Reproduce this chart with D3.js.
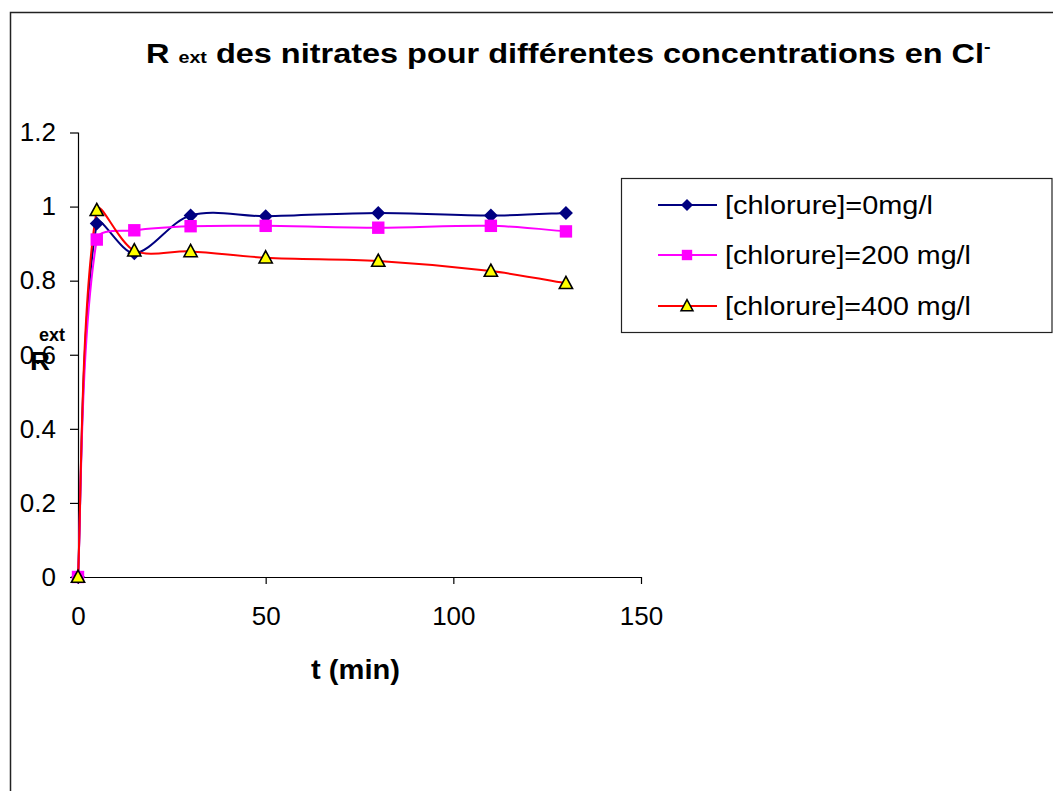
<!DOCTYPE html>
<html>
<head>
<meta charset="utf-8">
<script src="https://cdn.jsdelivr.net/npm/d3@7"></script>
<style>
  html, body { margin: 0; padding: 0; background: #fff; }
  svg { display: block; font-family: "Liberation Sans", Arial, sans-serif; }
</style>
</head>
<body>
<svg id="chart" width="1053" height="791"></svg>
<script>
// Sampling times (min)
const times = [0, 5, 15, 30, 50, 80, 110, 130];
// Rext of nitrates for each chloride concentration
const chlorure0 = [0, 0.954, 0.874, 0.976, 0.974, 0.983, 0.976, 0.983];
const chlorure200 = [0, 0.911, 0.936, 0.947, 0.948, 0.943, 0.948, 0.933];
const chlorure400 = [0, 0.99, 0.881, 0.879, 0.862, 0.853, 0.826, 0.793];
const seriesNames = ["[chlorure]=0mg/l", "[chlorure]=200 mg/l", "[chlorure]=400 mg/l"];
const xTicks = [0, 50, 100, 150];
const yTicks = [0, 0.2, 0.4, 0.6, 0.8, 1, 1.2];

// marker shapes drawn around the origin, r = half-width
const diamond = r => `M0,${-r}L${r},0L0,${r}L${-r},0Z`;
const square = r => `M${-r},${-r}H${r}V${r}H${-r}Z`;
const triangle = r => `M0,${-r * 1.05}L${r},${r * 0.8}H${-r}Z`;

const series = [
  { name: seriesNames[0], values: chlorure0, line: "#000080", fill: "#000080", stroke: "none", shape: diamond, r: 7, lr: 6 },
  { name: seriesNames[1], values: chlorure200, line: "#FF00FF", fill: "#FF00FF", stroke: "none", shape: square, r: 6.2, lr: 5.2 },
  { name: seriesNames[2], values: chlorure400, line: "#FF0000", fill: "#FFFF00", stroke: "#000", shape: triangle, r: 6.6, lr: 6 }
];

const svg = d3.select("#chart");

// stretch a text horizontally so that it spans the given width, keeping its left edge
function fitWidth(sel, width, anchorX) {
  const w = sel.node().getComputedTextLength();
  const k = width / w;
  sel.attr("transform", `translate(${anchorX},0) scale(${k},1) translate(${-anchorX},0)`);
}

// smooth curve through pixel points: cubic Béziers whose tangents are
// shortened on the side of the shorter neighbouring segment
function smoothPath(pts) {
  const n = pts.length;
  const dist = (a, b) => Math.hypot(b[0] - a[0], b[1] - a[1]);
  let d = `M${pts[0][0]},${pts[0][1]}`;
  for (let i = 0; i < n - 1; i++) {
    const p0 = pts[Math.max(i - 1, 0)], p1 = pts[i], p2 = pts[i + 1], p3 = pts[Math.min(i + 2, n - 1)];
    const d01 = dist(p0, p1), d12 = dist(p1, p2), d23 = dist(p2, p3);
    let c1, c2;
    if (i === 0) {
      c1 = [p1[0] + (p2[0] - p1[0]) / 6, p1[1] + (p2[1] - p1[1]) / 6];
    } else {
      const f = d12 / (d01 + d12) / 3;
      c1 = [p1[0] + (p2[0] - p0[0]) * f, p1[1] + (p2[1] - p0[1]) * f];
    }
    if (i === n - 2) {
      c2 = [p2[0] - (p2[0] - p1[0]) / 6, p2[1] - (p2[1] - p1[1]) / 6];
    } else {
      const g = d12 / (d12 + d23) / 3;
      c2 = [p2[0] - (p3[0] - p1[0]) * g, p2[1] - (p3[1] - p1[1]) * g];
    }
    d += `C${c1[0]},${c1[1]},${c2[0]},${c2[1]},${p2[0]},${p2[1]}`;
  }
  return d;
}

// chart frame
svg.append("path")
  .attr("d", "M10.5,791 V12.5 H1053")
  .attr("fill", "none").attr("stroke", "#222").attr("stroke-width", 1.5);

const x = d3.scaleLinear().domain([0, 150]).range([78, 641]);
const y = d3.scaleLinear().domain([0, 1.2]).range([577, 132.5]);

// axes
const xAxis = svg.append("g").attr("transform", "translate(0,577)")
  .call(d3.axisBottom(x).tickValues(xTicks).tickSize(7).tickPadding(23).tickFormat(d3.format("d")));
const yAxis = svg.append("g").attr("transform", "translate(78,0)")
  .call(d3.axisLeft(y).tickValues(yTicks).tickSize(8).tickPadding(14).tickFormat(d => String(d)));
[xAxis, yAxis].forEach(a => {
  a.select(".domain").attr("stroke", "#000").attr("stroke-width", 1.2);
  a.selectAll(".tick line").attr("stroke", "#000").attr("stroke-width", 1.2);
  a.selectAll(".tick text").attr("font-size", 26).attr("fill", "#000")
    .attr("font-family", "Liberation Sans, Arial, sans-serif");
});
xAxis.select(".domain").attr("d", "M78,0.5H641");
yAxis.select(".domain").attr("d", "M0.5,577V132.5");

const plot = svg.append("g");
series.forEach(s => {
  const pts = s.values.map((v, i) => [x(times[i]), y(v)]);
  plot.append("path")
    .attr("d", smoothPath(pts))
    .attr("fill", "none")
    .attr("stroke", s.line)
    .attr("stroke-width", 2);
});
series.forEach(s => {
  plot.append("g").selectAll("path")
    .data(s.values)
    .join("path")
    .attr("transform", (d, i) => `translate(${x(times[i])},${y(d)})`)
    .attr("d", s.shape(s.r))
    .attr("fill", s.fill)
    .attr("stroke", s.stroke)
    .attr("stroke-width", 1.6)
    .attr("stroke-linejoin", "miter");
});

// legend
const legend = svg.append("g");
legend.append("rect")
  .attr("x", 621.5).attr("y", 178.5).attr("width", 430.5).attr("height", 154)
  .attr("fill", "#fff").attr("stroke", "#222").attr("stroke-width", 1.2);
const legendY = [205, 255, 306];
series.forEach((s, i) => {
  const g = legend.append("g").attr("transform", `translate(0,${legendY[i]})`);
  g.append("line").attr("x1", 658).attr("x2", 717).attr("y1", 0).attr("y2", 0)
    .attr("stroke", s.line).attr("stroke-width", 2);
  g.append("path").attr("transform", "translate(687,0)")
    .attr("d", s.shape(s.lr))
    .attr("fill", s.fill).attr("stroke", s.stroke).attr("stroke-width", 1.5);
  const t = g.append("text").attr("x", 725).attr("y", 9).attr("font-size", 26).attr("fill", "#000")
    .text(s.name);
  fitWidth(t, [208, 246, 246][i], 725);
});

// title
const title = svg.append("text").attr("x", 146).attr("y", 63)
  .attr("font-weight", "bold").attr("fill", "#000")
  .attr("font-size", 28);
title.append("tspan").text("R ");
title.append("tspan").attr("font-size", 17).text("ext");
title.append("tspan").text(" des nitrates pour différentes concentrations en Cl");
title.append("tspan").attr("font-size", 17).attr("dy", -11).text("-");
fitWidth(title, 845, 146);

// axis titles
const xt = svg.append("text").attr("x", 311).attr("y", 679)
  .attr("font-weight", "bold").attr("font-size", 27).attr("fill", "#000").text("t (min)");
fitWidth(xt, 89, 311);
const yR = svg.append("text").attr("x", 30).attr("y", 370)
  .attr("font-weight", "bold").attr("font-size", 25).attr("fill", "#000").text("R");
fitWidth(yR, 20, 30);
svg.append("text").attr("x", 39).attr("y", 341)
  .attr("font-weight", "bold").attr("font-size", 18).attr("fill", "#000").text("ext");
</script>
</body>
</html>
